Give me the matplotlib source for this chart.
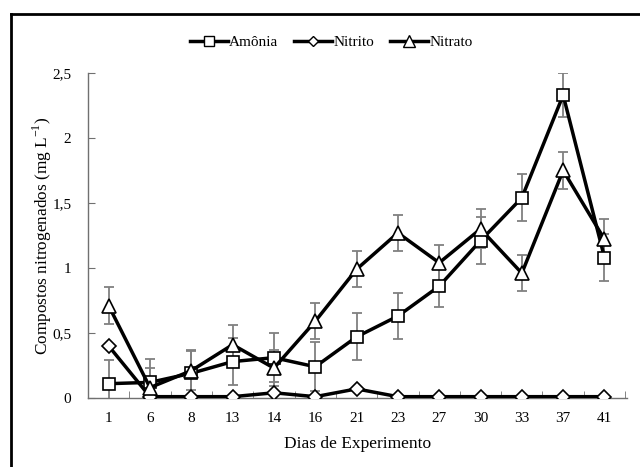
import numpy as np
import matplotlib
matplotlib.use("Agg")
import matplotlib.pyplot as plt
from matplotlib.lines import Line2D

plt.rcParams['font.family'] = ['Liberation Serif', 'DejaVu Serif']
plt.rcParams['mathtext.fontset'] = 'custom'
plt.rcParams['mathtext.rm'] = 'Liberation Serif'

dias = ['1', '6', '8', '13', '14', '16', '21', '23', '27', '30', '33', '37', '41']

amonia = [0.11, 0.12, 0.19, 0.28, 0.31, 0.24, 0.47, 0.63, 0.86, 1.21, 1.54, 2.33, 1.08]
amonia_err = [0.18, 0.18, 0.18, 0.18, 0.19, 0.19, 0.18, 0.18, 0.16, 0.18, 0.18, 0.17, 0.18]

nitrito = [0.40, 0.01, 0.01, 0.01, 0.04, 0.01, 0.07, 0.01, 0.01, 0.01, 0.01, 0.01, 0.01]
nitrito_err = [0.0] * 13

nitrato = [0.71, 0.08, 0.21, 0.41, 0.23, 0.59, 0.99, 1.27, 1.04, 1.30, 0.96, 1.75, 1.22]
nitrato_err = [0.14, 0.15, 0.15, 0.15, 0.14, 0.14, 0.14, 0.14, 0.14, 0.15, 0.14, 0.14, 0.16]

x = np.arange(len(dias))

fig = plt.figure(figsize=(6.4, 4.67), dpi=100)
ax = fig.add_axes([0.1375, 0.1478, 0.8425, 0.6959])

series = [
    ('Amônia', amonia, amonia_err, 's', 9),
    ('Nitrito', nitrito, nitrito_err, 'D', 7),
    ('Nitrato', nitrato, nitrato_err, '^', 10),
]

handles = []
for name, vals, err, mk, ms in series:
    ax.errorbar(x, vals, yerr=err, fmt='none', ecolor='#808080',
                elinewidth=1.3, capsize=3.5, capthick=1.3, zorder=2)
    ax.plot(x, vals, color='black', lw=2.5, marker=mk, ms=ms,
            mfc='white', mec='black', mew=1.2, zorder=3)
    handles.append(Line2D([], [], color='black', lw=2.5, marker=mk,
                          ms=ms * 0.8, mfc='white', mec='black', mew=1.0))

ax.set_xlim(-0.5, len(dias) - 0.45)
ax.set_ylim(0, 2.5)
ax.set_xticks(x)
ax.set_xticklabels(dias)
ax.set_xticks(np.arange(-0.5, len(dias), 1), minor=True)
ax.set_yticks([0, 0.5, 1, 1.5, 2, 2.5])
ax.set_yticklabels(['0', '0,5', '1', '1,5', '2', '2,5'])

ax.tick_params(axis='x', which='major', length=0, pad=10, labelsize=11)
ax.tick_params(axis='x', which='minor', direction='in', length=5, color='#707070')
ax.tick_params(axis='y', direction='in', length=5, color='#707070', pad=12, labelsize=11)

for s in ['top', 'right']:
    ax.spines[s].set_visible(False)
for s in ['left', 'bottom']:
    ax.spines[s].set_color('#707070')
    ax.spines[s].set_linewidth(1.0)

ax.set_xlabel('Dias de Experimento', fontsize=12.5, labelpad=8)
ax.set_ylabel('Compostos nitrogenados (mg L$^{\\mathrm{-1}}$)', fontsize=12.4)
ax.yaxis.set_label_coords(-0.063, 0.5)

fig.legend(handles, [s[0] for s in series], loc='center',
           bbox_to_anchor=(331 / 640, 1 - 42 / 467), ncol=3, frameon=False,
           fontsize=11, handlelength=2.5, handletextpad=0.1, columnspacing=1.0)

# moldura
fig.add_artist(Line2D([11 / 640, 11 / 640], [0, 1 - 14 / 467], transform=fig.transFigure,
                      color='black', lw=2))
fig.add_artist(Line2D([11 / 640, 1], [1 - 14 / 467, 1 - 14 / 467], transform=fig.transFigure,
                      color='black', lw=2))

fig.savefig('out.png', dpi=100)
